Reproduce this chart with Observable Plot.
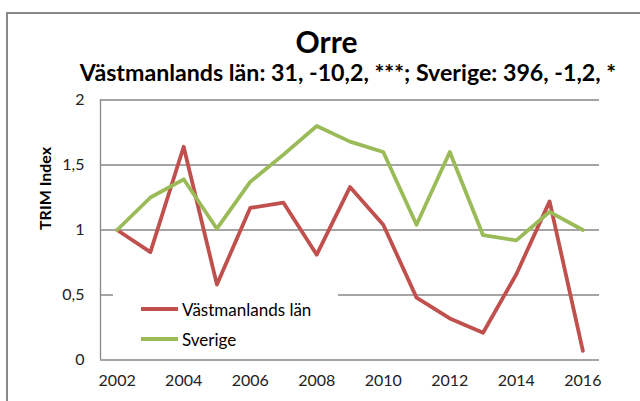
<!DOCTYPE html>
<html>
<head>
<meta charset="utf-8">
<script src="https://cdn.jsdelivr.net/npm/d3@7"></script>
<script src="https://cdn.jsdelivr.net/npm/@observablehq/plot@0.6"></script>
<style>
  html, body { margin: 0; padding: 0; background: #fff; overflow: hidden; }
  body { width: 640px; height: 401px; position: relative; font-family: Lato, "Open Sans", sans-serif; }
  #frame { position: absolute; left: 6px; top: 12px; width: 700px; height: 500px; border-left: 2px solid #888; border-top: 2px solid #888; }
  #chart { position: absolute; left: 0; top: 0; }
  .title { position: absolute; white-space: nowrap; font-weight: bold; color: #000; text-align: center; }
  #legend { position: absolute; left: 113px; top: 287px; width: 225px; height: 64px; background: #fff; }
  .lg { position: absolute; left: 28px; height: 20px; display: flex; align-items: center; font-size: 17px; color: #000; white-space: nowrap; }
  .sw { width: 37px; height: 4px; margin-right: 4px; }
</style>
</head>
<body>
<div id="frame"></div>
<div id="chart"></div>
<div class="title" id="t1" style="left:0;width:653px;top:26px;font-size:30px;line-height:30px;"></div>
<div class="title" id="t2" style="left:0;width:696px;top:61px;font-size:23.2px;line-height:23.2px;"></div>
<div id="legend"></div>
<script>
const titleText = "Orre";
const subtitleText = "Västmanlands län: 31, -10,2, ***; Sverige: 396, -1,2, *";
const yLabel = "TRIM Index";
const seriesNames = ["Västmanlands län", "Sverige"];
const seriesColors = ["#C0504D", "#9BBB59"];
const years = [2002, 2003, 2004, 2005, 2006, 2007, 2008, 2009, 2010, 2011, 2012, 2013, 2014, 2015, 2016];
const vastmanland = [1.0, 0.83, 1.64, 0.58, 1.17, 1.21, 0.81, 1.33, 1.04, 0.48, 0.32, 0.21, 0.66, 1.22, 0.07];
const sverige = [1.0, 1.25, 1.39, 1.01, 1.37, 1.58, 1.80, 1.68, 1.60, 1.04, 1.60, 0.96, 0.92, 1.14, 1.0];
const xTicks = [2002, 2004, 2006, 2008, 2010, 2012, 2014, 2016];
const yTicks = [0, 0.5, 1, 1.5, 2];

document.getElementById("t1").textContent = titleText;
document.getElementById("t2").textContent = subtitleText;

const rows = [];
years.forEach((yr, i) => {
  rows.push({year: yr, value: vastmanland[i], series: seriesNames[0]});
  rows.push({year: yr, value: sverige[i], series: seriesNames[1]});
});

const fmt = d => String(d).replace(".", ",");

const chart = Plot.plot({
  width: 640,
  height: 401,
  marginLeft: 100,
  marginRight: 41,
  marginTop: 99.5,
  marginBottom: 41.5,
  style: {fontFamily: "Lato, 'Open Sans', sans-serif", fontSize: "16px", color: "#222", background: "transparent"},
  x: {domain: [2001.5, 2016.5], ticks: xTicks, tickFormat: d => String(d)},
  y: {domain: [0, 2], ticks: yTicks, tickFormat: fmt},
  color: {domain: seriesNames, range: seriesColors},
  marks: [
    Plot.ruleY(yTicks, {stroke: "#878787", strokeWidth: 1.3}),
    Plot.ruleX([2001.5], {stroke: "#878787", strokeWidth: 1.3}),
    Plot.axisX({ticks: xTicks, tickFormat: d => String(d), tickSize: 0, tickPadding: 15, label: null, fontSize: 16}),
    Plot.axisY({ticks: yTicks, tickFormat: fmt, tickSize: 0, tickPadding: 16, label: null, fontSize: 16}),
    Plot.text([yLabel], {frameAnchor: "left", dx: -55, rotate: -90, fontWeight: "bold", fontSize: 16, fill: "#000"}),
    Plot.line(rows, {x: "year", y: "value", stroke: "series", z: "series", strokeWidth: 3.8, strokeLinejoin: "round", strokeLinecap: "round"})
  ]
});
document.getElementById("chart").appendChild(chart);

const legend = document.getElementById("legend");
seriesNames.forEach((name, i) => {
  const row = document.createElement("div");
  row.className = "lg";
  row.style.top = (12 + i * 30) + "px";
  const sw = document.createElement("div");
  sw.className = "sw";
  sw.style.background = seriesColors[i];
  const tx = document.createElement("span");
  tx.textContent = name;
  row.appendChild(sw);
  row.appendChild(tx);
  legend.appendChild(row);
});
</script>
</body>
</html>
